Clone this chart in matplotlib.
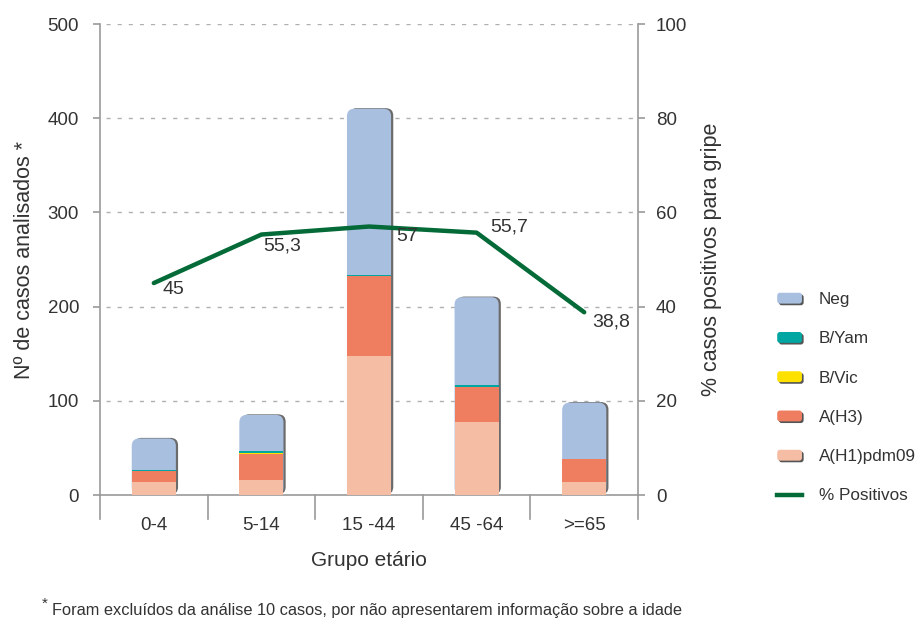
import matplotlib
matplotlib.use("Agg")
import numpy as np
import matplotlib.pyplot as plt
from matplotlib.patches import FancyBboxPatch, Patch
from matplotlib.lines import Line2D
from matplotlib.legend_handler import HandlerPatch
from matplotlib.transforms import ScaledTranslation, blended_transform_factory

# dados por grupo etário
grupos = ["0-4", "5-14", "15 -44", "45 -64", ">=65"]
h1pdm09 = [14, 16, 148, 77, 14]
h3 = [11, 27, 84, 38, 24]
b_vic = [0, 2, 0, 0, 0]
b_yam = [2, 2, 2, 2, 0]
neg = [33, 38, 176, 93, 60]
pct_positivos = [45, 55.3, 57, 55.7, 38.8]
pct_rotulos = ["45", "55,3", "57", "55,7", "38,8"]

cores = {
    "Neg": "#A9BFE0",
    "B/Yam": "#00A6A2",
    "B/Vic": "#FFE100",
    "A(H3)": "#EF7E61",
    "A(H1)pdm09": "#F6BDA5",
}
verde = "#046A38"
cinza = "#9a9a9a"
txt_cor = "#333333"

plt.rcParams["font.family"] = ["Liberation Sans", "DejaVu Sans"]
plt.rcParams["font.size"] = 13

fig = plt.figure(figsize=(9.2, 6.2), dpi=100)
ax = fig.add_axes([100 / 920, 125 / 620, 538 / 920, 471 / 620])
ax2 = ax.twinx()

x = np.arange(len(grupos))
largura = 0.41
ax.set_xlim(-0.5, len(grupos) - 0.5)
ax.set_ylim(0, 500)
ax2.set_ylim(0, 100)

# barras: fundo arredondado (Neg) com sombra, segmentos positivos por cima
total = np.array(h1pdm09) + np.array(h3) + np.array(b_vic) + np.array(b_yam) + np.array(neg)
sombra_tr = ax.transData + ScaledTranslation(2.2 / 100, 0.6 / 100, fig.dpi_scale_trans)
estilo = "round,pad=0,rounding_size=0.07"
for xi, t in zip(x, total):
    sh = FancyBboxPatch((xi - largura / 2, 0), largura, t, boxstyle=estilo,
                        mutation_aspect=112, fc="#6b6b6b", ec="none",
                        transform=sombra_tr, zorder=2)
    ax.add_patch(sh)
    fb = FancyBboxPatch((xi - largura / 2, 0), largura, t, boxstyle=estilo,
                        mutation_aspect=112, fc=cores["Neg"], ec="none", zorder=3)
    ax.add_patch(fb)

base = np.zeros(len(grupos))
for nome, vals in [("A(H1)pdm09", h1pdm09), ("A(H3)", h3), ("B/Vic", b_vic), ("B/Yam", b_yam)]:
    ax.bar(x, vals, largura, bottom=base, color=cores[nome], zorder=4)
    base += np.array(vals)

# grelha tracejada
for yv in [100, 200, 300, 400, 500]:
    ax.axhline(yv, color="#b0b0b0", lw=1, ls=(0, (3, 5)), zorder=1, xmin=0.012, xmax=1)

# eixos
ax.spines["top"].set_visible(False)
ax.spines["right"].set_visible(False)
for s in ["top", "left", "bottom"]:
    ax2.spines[s].set_visible(False)
for sp in [ax.spines["left"], ax.spines["bottom"], ax2.spines["right"]]:
    sp.set_color(cinza)
    sp.set_linewidth(1.2)

ax.set_yticks([0, 100, 200, 300, 400, 500])
ax2.set_yticks([0, 20, 40, 60, 80, 100])
ax.tick_params(axis="y", length=5, width=1.2, color=cinza, pad=10, labelcolor=txt_cor, labelsize=13.5)
ax2.tick_params(axis="y", length=5, width=1.2, color=cinza, pad=8, labelcolor=txt_cor, labelsize=13.5)
ax.set_xticks(x)
ax.set_xticklabels(grupos)
ax.tick_params(axis="x", length=0, pad=16, labelcolor=txt_cor, labelsize=13.5)

# separadores das categorias abaixo do eixo
tr = blended_transform_factory(ax.transData, ax.transAxes)
for xs in np.arange(-0.5, len(grupos), 1.0):
    ax.plot([xs, xs], [0, -0.052], transform=tr, color=cinza, lw=1.2, clip_on=False, zorder=5)

ax.set_xlabel("Grupo etário", fontsize=15, color=txt_cor, labelpad=12)
ax.set_ylabel("Nº de casos analisados *", fontsize=15.5, color=txt_cor, labelpad=9)
ax2.set_ylabel("% casos positivos para gripe", fontsize=15.5, color=txt_cor, labelpad=10)

# linha de % positivos
ax2.plot(x, pct_positivos, color=verde, lw=3.2, solid_capstyle="round", zorder=6)
desloc = [(6.5, -4.7), (1.4, -8.6), (19.4, -7.3), (10, 4.3), (5.8, -6.7)]
for xi, v, rot, d in zip(x, pct_positivos, pct_rotulos, desloc):
    ax2.annotate(rot, (xi, v), xytext=d, textcoords="offset points",
                 ha="left", va="center", fontsize=14, color=txt_cor, zorder=7)


class HandlerRedondo(HandlerPatch):
    def create_artists(self, legend, orig_handle, xdescent, ydescent, width, height, fontsize, trans):
        estilo = "round,pad=0,rounding_size=2"
        sh = FancyBboxPatch((-xdescent + 1.2, -ydescent - 1.2), width, height, boxstyle=estilo,
                            fc="#555555", ec="none", transform=trans)
        p = FancyBboxPatch((-xdescent, -ydescent), width, height, boxstyle=estilo,
                           fc=orig_handle.get_facecolor(), ec="none", transform=trans)
        return [sh, p]


handles = [Patch(color=cores[k], label=k) for k in ["Neg", "B/Yam", "B/Vic", "A(H3)", "A(H1)pdm09"]]
handles.append(Line2D([], [], color=verde, lw=3.2, label="% Positivos"))
fig.legend(handles=handles, loc="upper left", bbox_to_anchor=(0.8355, 0.5425),
           frameon=False, fontsize=12.3, labelcolor=txt_cor, handlelength=1.45,
           handleheight=0.6, handletextpad=1.0, labelspacing=1.42, borderpad=0,
           handler_map={Patch: HandlerRedondo()})

# nota de rodapé
fig.text(42 / 920, 1 - 604 / 620, "*", fontsize=11, color=txt_cor, ha="left", va="center")
fig.text(52 / 920, 1 - 611 / 620, "Foram excluídos da análise 10 casos, por não apresentarem informação sobre a idade",
         fontsize=11.8, color=txt_cor, ha="left", va="center")

fig.savefig("out.png", dpi=100)
